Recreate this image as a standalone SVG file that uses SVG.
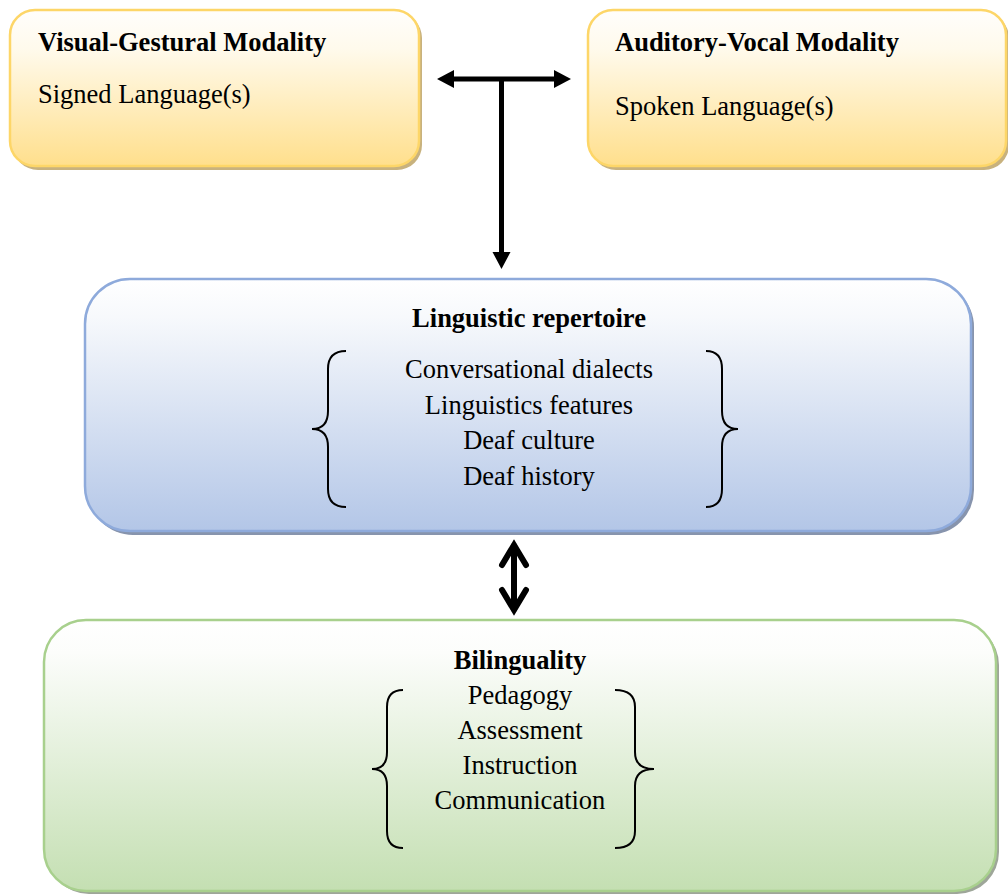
<svg xmlns="http://www.w3.org/2000/svg" width="1008" height="894" viewBox="0 0 1008 894">
  <defs>
    <linearGradient id="gradYellow" x1="0" y1="0" x2="0" y2="1">
      <stop offset="0" stop-color="#fffefc"/>
      <stop offset="0.25" stop-color="#fffaec"/>
      <stop offset="1" stop-color="#ffdf8c"/>
    </linearGradient>
    <linearGradient id="gradBlue" x1="0" y1="0" x2="0" y2="1">
      <stop offset="0" stop-color="#ffffff"/>
      <stop offset="0.15" stop-color="#f7f9fc"/>
      <stop offset="1" stop-color="#b3c6e7"/>
    </linearGradient>
    <linearGradient id="gradGreen" x1="0" y1="0" x2="0" y2="1">
      <stop offset="0" stop-color="#ffffff"/>
      <stop offset="0.12" stop-color="#fcfdfb"/>
      <stop offset="1" stop-color="#c4dfb2"/>
    </linearGradient>
  </defs>
  <style>
    .title { font-family: "Liberation Serif", "Times New Roman", serif; font-size: 26.5px; font-weight: bold; fill: #000; }
    .body { font-family: "Liberation Serif", "Times New Roman", serif; font-size: 26.5px; fill: #000; }
    .mid { text-anchor: middle; }
    .brace { fill: none; stroke: #000; stroke-width: 2; }
    .yellow { fill: url(#gradYellow); stroke: #fdd668; stroke-width: 2.5; }
    .yellow-shadow { fill: #c8b27e; }
    .blue { fill: url(#gradBlue); stroke: #8eaadb; stroke-width: 2.5; }
    .blue-shadow { fill: #8794ad; }
    .green { fill: url(#gradGreen); stroke: #a8d08d; stroke-width: 2.5; }
    .green-shadow { fill: #9ea699; }
    .line { stroke: #000; stroke-width: 5; fill: none; }
    .head { fill: #000; }
    .chev { stroke: #000; stroke-width: 6; fill: none; stroke-linecap: round; stroke-linejoin: miter; }
  </style>

  <!-- Top left: visual-gestural modality -->
  <g id="visual-gestural">
    <rect class="yellow-shadow" x="13" y="13" width="409" height="157" rx="25"/>
    <rect class="yellow" x="10" y="10" width="409" height="156" rx="25"/>
    <text class="title" x="38" y="51">Visual-Gestural Modality</text>
    <text class="body" x="38" y="103">Signed Language(s)</text>
  </g>

  <!-- Top right: auditory-vocal modality -->
  <g id="auditory-vocal">
    <rect class="yellow-shadow" x="591" y="13" width="418" height="157" rx="25"/>
    <rect class="yellow" x="588" y="10" width="418" height="156" rx="25"/>
    <text class="title" x="615" y="51">Auditory-Vocal Modality</text>
    <text class="body" x="615" y="115">Spoken Language(s)</text>
  </g>

  <!-- Middle: linguistic repertoire -->
  <g id="linguistic-repertoire">
    <rect class="blue-shadow" x="88" y="282" width="886" height="253" rx="45"/>
    <rect class="blue" x="85" y="279" width="886" height="252" rx="45"/>
    <text class="title mid" x="529" y="327">Linguistic repertoire</text>
    <text class="body mid" x="529" y="378">Conversational dialects</text>
    <text class="body mid" x="529" y="413.5">Linguistics features</text>
    <text class="body mid" x="529" y="449">Deaf culture</text>
    <text class="body mid" x="529" y="484.5">Deaf history</text>
    <path class="brace" d="M346 351 Q328 351 328 369 L328 411 Q328 429 312 429 Q328 429 328 447 L328 489 Q328 507 346 507"/>
    <path class="brace" d="M706 351 Q722 351 722 369 L722 411 Q722 429 738 429 Q722 429 722 447 L722 489 Q722 507 706 507"/>
  </g>

  <!-- Bottom: bilinguality -->
  <g id="bilinguality">
    <rect class="green-shadow" x="47" y="623" width="952" height="271" rx="42"/>
    <rect class="green" x="44" y="620" width="952" height="271" rx="42"/>
    <text class="title mid" x="520" y="669">Bilinguality</text>
    <text class="body mid" x="520" y="704">Pedagogy</text>
    <text class="body mid" x="520" y="739">Assessment</text>
    <text class="body mid" x="520" y="774">Instruction</text>
    <text class="body mid" x="520" y="809">Communication</text>
    <path class="brace" d="M403 690 Q387 690 387 707 L387 752 Q387 769 372 769 Q387 769 387 786 L387 831 Q387 848 403 848"/>
    <path class="brace" d="M615 690 Q635 690 635 707 L635 752 Q635 769 654 769 Q635 769 635 786 L635 831 Q635 848 615 848"/>
  </g>

  <!-- Connectors -->
  <g id="connectors">
    <!-- double-headed link between the two modalities -->
    <line class="line" x1="450" y1="79" x2="558" y2="79"/>
    <polygon class="head" points="437,79 454,70 454,88"/>
    <polygon class="head" points="571,79 554,70 554,88"/>
    <!-- stem down into the repertoire -->
    <line class="line" x1="501.5" y1="79" x2="501.5" y2="256"/>
    <polygon class="head" points="501.5,269 492.5,252 510.5,252"/>
    <!-- two-way link between repertoire and bilinguality -->
    <line class="chev" x1="514" y1="546" x2="514" y2="609"/>
    <polyline class="chev" points="502,565 514,545 526,565"/>
    <polyline class="chev" points="502,590 514,610 526,590"/>
  </g>
</svg>
